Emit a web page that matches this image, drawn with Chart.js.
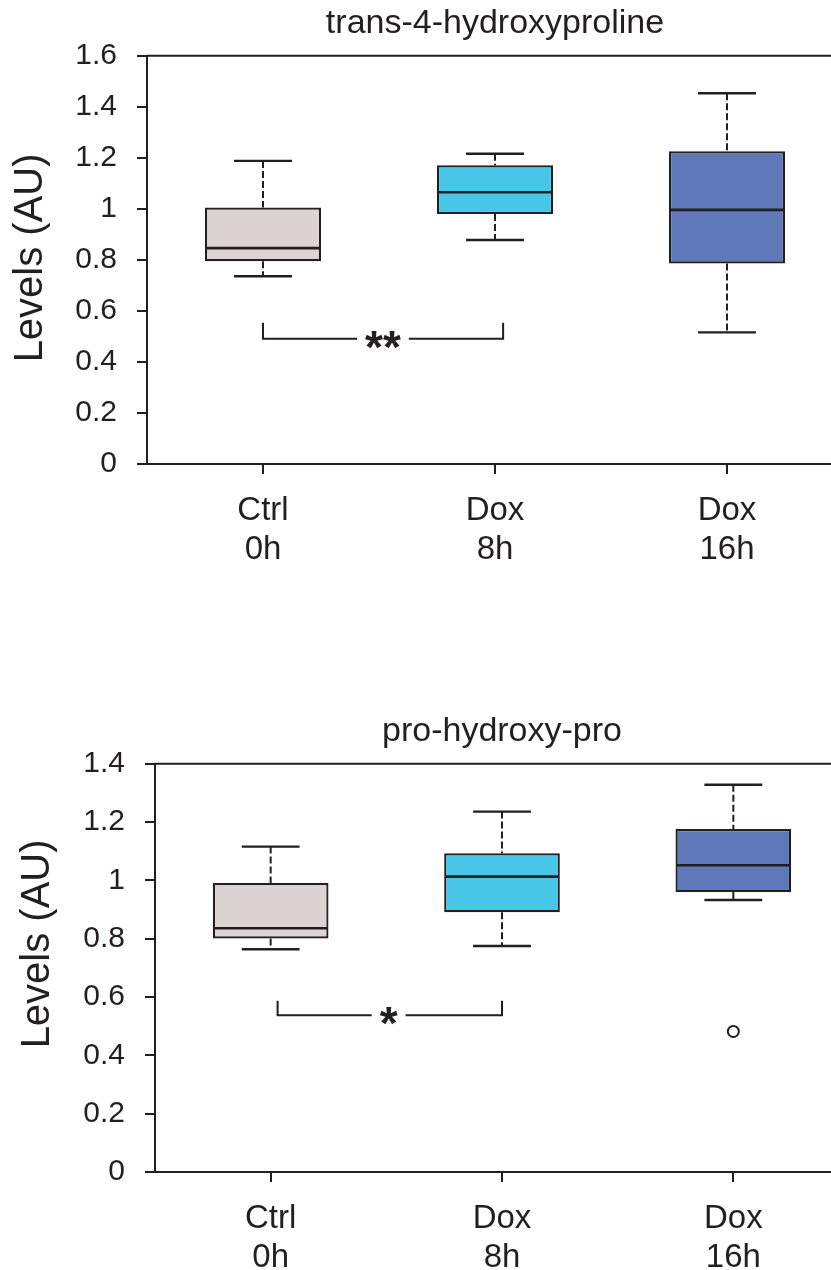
<!DOCTYPE html>
<html><head><meta charset="utf-8">
<script src="https://cdn.jsdelivr.net/npm/chart.js@4.4.1/dist/chart.umd.min.js"></script>
<style>
html,body{margin:0;padding:0;overflow:hidden;background:#fff;width:831px;height:1270px;}
canvas{position:absolute;left:0;}
#c1{top:0}
#c2{top:708px}
</style></head><body>
<canvas id="c1" width="990" height="590"></canvas>
<canvas id="c2" width="1004" height="562"></canvas>
<script>
// ---------- data ----------
const categories = [['Ctrl','0h'],['Dox','8h'],['Dox','16h']];
const boxColors = ['#dbd3d4','#47c6e8','#5f78b9'];
const yAxisTitle = 'Levels (AU)';

// chart A : trans-4-hydroxyproline
const titleA = 'trans-4-hydroxyproline';
const lowA  = [0.736, 0.878, 0.516];
const q1A   = [0.795, 0.980, 0.786];
const medA  = [0.846, 1.065, 0.996];
const q3A   = [1.005, 1.171, 1.226];
const highA = [1.188, 1.216, 1.453];
const outA  = [null, null, null];
const yTicksA = ['0','0.2','0.4','0.6','0.8','1','1.2','1.4','1.6'];
const sigA = {from: 0, to: 1.035, lineY: 0.491, tickY: 0.554, label: '**', labelX: 0.517};

// chart B : pro-hydroxy-pro
const titleB = 'pro-hydroxy-pro';
const lowB  = [0.764, 0.775, 0.933];
const q1B   = [0.801, 0.891, 0.960];
const medB  = [0.836, 1.013, 1.052];
const q3B   = [0.991, 1.093, 1.176];
const highB = [1.116, 1.236, 1.328];
const outB  = [null, null, 0.482];
const yTicksB = ['0','0.2','0.4','0.6','0.8','1','1.2','1.4'];
const sigB = {from: 0.03, to: 1.0, lineY: 0.538, tickY: 0.587, label: '*', labelX: 0.51};

// ---------- styling ----------
const INK = '#231f20';
const FONT = "'Liberation Sans', Arial, Helvetica, sans-serif";
Chart.defaults.font.family = FONT;
Chart.defaults.color = INK;

function boxPlugin(s){
  return {
    id: 'boxParts',
    beforeDatasetsDraw(chart){
      const meta = chart.getDatasetMeta(0), y = chart.scales.y, ctx = chart.ctx;
      ctx.save();
      ctx.strokeStyle = INK;
      meta.data.forEach((bar, i) => {
        const x = bar.x, cw = bar.width / 4;
        ctx.setLineDash([7, 3]); ctx.lineWidth = 2;
        ctx.beginPath();
        ctx.moveTo(x, y.getPixelForValue(s.high[i])); ctx.lineTo(x, y.getPixelForValue(s.q3[i]));
        ctx.moveTo(x, y.getPixelForValue(s.q1[i])); ctx.lineTo(x, y.getPixelForValue(s.low[i]));
        ctx.stroke();
        ctx.setLineDash([]); ctx.lineWidth = 2.4;
        ctx.beginPath();
        [s.high[i], s.low[i]].forEach(v => {
          const py = y.getPixelForValue(v);
          ctx.moveTo(x - cw, py); ctx.lineTo(x + cw, py);
        });
        ctx.stroke();
      });
      ctx.restore();
    },
    afterDatasetsDraw(chart){
      const meta = chart.getDatasetMeta(0), y = chart.scales.y, ctx = chart.ctx;
      ctx.save();
      ctx.strokeStyle = INK; ctx.lineWidth = 2.6;
      meta.data.forEach((bar, i) => {
        const hw = bar.width / 2, py = y.getPixelForValue(s.med[i]);
        ctx.beginPath(); ctx.moveTo(bar.x - hw + 1, py); ctx.lineTo(bar.x + hw - 1, py); ctx.stroke();
      });
      ctx.restore();
    }
  };
}

function framePlugin(){
  return {
    id: 'frame',
    afterDraw(chart){
      const a = chart.chartArea, ctx = chart.ctx;
      ctx.save(); ctx.strokeStyle = INK; ctx.lineWidth = 2;
      ctx.beginPath(); ctx.moveTo(a.left, a.top); ctx.lineTo(a.right, a.top); ctx.lineTo(a.right, a.bottom); ctx.stroke();
      ctx.restore();
    }
  };
}

function sigPlugin(sig){
  return {
    id: 'sig',
    afterDatasetsDraw(chart){
      const x = chart.scales.x, y = chart.scales.y, ctx = chart.ctx;
      const x0 = x.getPixelForValue(sig.from), x1 = x.getPixelForValue(sig.to);
      const yl = y.getPixelForValue(sig.lineY), yt = y.getPixelForValue(sig.tickY);
      const xc = x.getPixelForValue(sig.labelX);
      ctx.save();
      ctx.font = 'bold 46px ' + FONT;
      const w = ctx.measureText(sig.label).width;
      const gap = w / 2 + 8;
      ctx.strokeStyle = INK; ctx.lineWidth = 2;
      ctx.beginPath();
      ctx.moveTo(x0, yt); ctx.lineTo(x0, yl); ctx.lineTo(xc - gap, yl);
      ctx.moveTo(xc + gap, yl); ctx.lineTo(x1, yl); ctx.lineTo(x1, yt);
      ctx.stroke();
      ctx.fillStyle = INK; ctx.textAlign = 'center'; ctx.textBaseline = 'alphabetic';
      ctx.fillText(sig.label, xc, yl + 24);
      ctx.restore();
    }
  };
}

function yTitlePlugin(cx, cyOffset){
  return {
    id: 'ytitle',
    afterDraw(chart){
      const a = chart.chartArea, ctx = chart.ctx;
      ctx.save();
      ctx.translate(cx, (a.top + a.bottom) / 2 + cyOffset);
      ctx.rotate(-Math.PI / 2);
      ctx.font = '40px ' + FONT; ctx.fillStyle = INK;
      ctx.textAlign = 'center'; ctx.textBaseline = 'middle';
      ctx.fillText(yAxisTitle, 0, 0);
      ctx.restore();
    }
  };
}

function makeChart(id, cfg){
  const s = cfg.stats;
  return new Chart(document.getElementById(id), {
    type: 'bar',
    data: {
      labels: categories,
      datasets: [
        {
          type: 'bar',
          data: s.q1.map((v, i) => [v, s.q3[i]]),
          backgroundColor: boxColors,
          borderColor: INK,
          borderWidth: 2.2,
          borderSkipped: false,
          barPercentage: 1,
          categoryPercentage: 0.5,
          order: 2
        },
        {
          type: 'line',
          data: cfg.outliers,
          showLine: false,
          pointRadius: 5.5,
          pointBackgroundColor: '#ffffff',
          pointBorderColor: INK,
          pointBorderWidth: 2,
          order: 1
        }
      ]
    },
    options: {
      responsive: false,
      animation: false,
      events: [],
      layout: {padding: {left: 0, right: cfg.axisW, top: 0, bottom: 0}},
      plugins: {
        legend: {display: false},
        tooltip: {enabled: false},
        title: {
          display: true, text: cfg.title, color: INK, fullSize: false,
          font: {size: 34, weight: 'normal', family: FONT, lineHeight: 1.2},
          padding: {top: 3, bottom: 12}
        }
      },
      scales: {
        x: {
          type: 'category',
          afterFit(scale){ scale.height = cfg.xAxisH; },
          grid: {offset: false, drawOnChartArea: false, drawTicks: true, tickLength: 10, lineWidth: 2, color: INK},
          border: {display: true, color: INK, width: 2},
          ticks: {color: INK, padding: 18, maxRotation: 0, autoSkip: false,
                  font: {size: 33, family: FONT, lineHeight: 1.16}}
        },
        y: {
          min: 0, max: cfg.yMax,
          afterFit(scale){ scale.width = cfg.axisW; },
          grid: {drawOnChartArea: false, drawTicks: true, tickLength: 10, lineWidth: 2, color: INK},
          border: {display: true, color: INK, width: 2},
          ticks: {stepSize: 0.2, autoSkip: false, padding: 20, color: INK,
                  font: {size: 30, family: FONT},
                  callback: (v, i) => cfg.yTicks[i]}
        }
      }
    },
    plugins: [boxPlugin(s), sigPlugin(cfg.sig), framePlugin(), yTitlePlugin(cfg.yTitleX, cfg.yTitleDY)]
  });
}

makeChart('c1', {
  title: titleA,
  stats: {low: lowA, q1: q1A, med: medA, q3: q3A, high: highA},
  outliers: outA, yTicks: yTicksA, yMax: 1.6, sig: sigA,
  axisW: 147, xAxisH: 126, yTitleX: 31, yTitleDY: -2
});
makeChart('c2', {
  title: titleB,
  stats: {low: lowB, q1: q1B, med: medB, q3: q3B, high: highB},
  outliers: outB, yTicks: yTicksB, yMax: 1.4, sig: sigB,
  axisW: 155, xAxisH: 98, yTitleX: 38, yTitleDY: -24
});
</script>
</body></html>
